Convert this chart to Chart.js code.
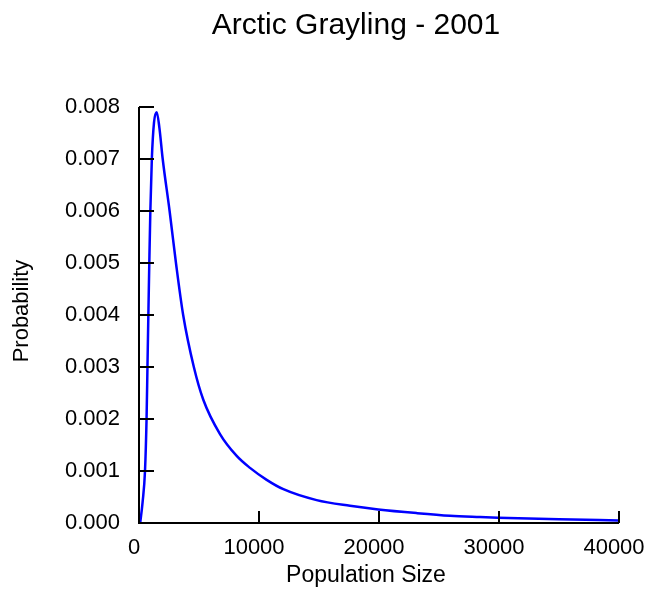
<!DOCTYPE html>
<html>
<head>
<meta charset="utf-8">
<title>Arctic Grayling - 2001</title>
<script src="https://cdn.jsdelivr.net/npm/chart.js@4.4.1/dist/chart.umd.min.js"></script>
<style>
  html, body { margin: 0; padding: 0; background: #fff; }
  #chart { display: block; }
</style>
</head>
<body>
<canvas id="chart" width="652" height="592"></canvas>
<script>
// population size vs. probability (posterior curve)
const popSize = [100, 300, 500, 630, 705, 780, 858, 945, 1070, 1250, 1475, 1700, 1975,
  2550, 3080, 3680, 4570, 5358, 6750, 8140, 9250, 10640, 12030, 14800, 17580,
  19940, 23140, 25920, 28420, 29920, 35000, 40000];
const prob = [0, 0.0004, 0.001, 0.002, 0.003, 0.004, 0.005, 0.006, 0.007, 0.0077, 0.0079, 0.0076, 0.007,
  0.006, 0.005, 0.004, 0.003, 0.00237, 0.00171, 0.00129, 0.00106, 0.00083, 0.00065, 0.00044, 0.00033,
  0.00026, 0.00019, 0.00014, 0.000115, 0.000102, 0.00007, 0.00005];

const xTicks = [0, 10000, 20000, 30000, 40000];
const yTicks = [0, 0.001, 0.002, 0.003, 0.004, 0.005, 0.006, 0.007, 0.008];

const FONT = "'Liberation Sans', Arial, Helvetica, sans-serif";

// axes with inward tick marks, plus title and axis captions
const frame = {
  id: 'frame',
  afterDraw(chart) {
    const ctx = chart.ctx;
    const xs = chart.scales.x, ys = chart.scales.y;
    const left = xs.getPixelForValue(0), right = xs.getPixelForValue(40000);
    const bottom = ys.getPixelForValue(0), top = ys.getPixelForValue(0.008);
    ctx.save();
    ctx.strokeStyle = '#000';
    ctx.lineWidth = 2;
    ctx.beginPath();
    ctx.moveTo(left, top);
    ctx.lineTo(left, bottom);
    ctx.lineTo(right, bottom);
    xTicks.forEach(v => {
      const px = xs.getPixelForValue(v);
      ctx.moveTo(px, bottom);
      ctx.lineTo(px, bottom - 12);
    });
    yTicks.forEach(v => {
      const py = ys.getPixelForValue(v);
      ctx.moveTo(left, py);
      ctx.lineTo(left + 15, py);
    });
    ctx.stroke();

    ctx.fillStyle = '#000';
    ctx.textAlign = 'center';
    ctx.textBaseline = 'middle';
    ctx.font = '30px ' + FONT;
    ctx.fillText('Arctic Grayling - 2001', 356, 26);
    ctx.font = '23px ' + FONT;
    ctx.fillText('Population Size', 366, 576);
    ctx.font = '22px ' + FONT;
    ctx.translate(22, 311);
    ctx.rotate(-Math.PI / 2);
    ctx.fillText('Probability', 0, 0);
    ctx.restore();
  }
};

new Chart(document.getElementById('chart'), {
  type: 'line',
  data: {
    datasets: [{
      data: popSize.map((x, i) => ({ x: x, y: prob[i] })),
      borderColor: '#0000ff',
      borderWidth: 2.5,
      pointRadius: 0,
      fill: false,
      cubicInterpolationMode: 'monotone'
    }]
  },
  options: {
    responsive: false,
    animation: false,
    layout: { padding: { top: 107, right: 33, left: 0, bottom: 0 } },
    plugins: {
      legend: { display: false },
      tooltip: { enabled: false }
    },
    scales: {
      x: {
        type: 'linear',
        min: 0,
        max: 40000,
        afterFit(s) {
          s.height = 69;
          s.paddingLeft = 0;
          s.paddingRight = 0;
        },
        afterBuildTicks(s) { s.ticks = xTicks.map(v => ({ value: v })); },
        grid: { display: false },
        border: { display: false },
        ticks: {
          color: '#000',
          font: { family: FONT, size: 22 },
          padding: 4,
          labelOffset: -5,
          maxRotation: 0,
          callback: v => String(v)
        }
      },
      y: {
        min: 0,
        max: 0.008,
        afterFit(s) {
          s.width = 139;
          s.paddingTop = 0;
          s.paddingBottom = 0;
        },
        afterBuildTicks(s) { s.ticks = yTicks.map(v => ({ value: v })); },
        grid: { display: false },
        border: { display: false },
        ticks: {
          color: '#000',
          font: { family: FONT, size: 22 },
          padding: 11,
          callback: v => v.toFixed(3)
        }
      }
    }
  },
  plugins: [frame]
});
</script>
</body>
</html>
